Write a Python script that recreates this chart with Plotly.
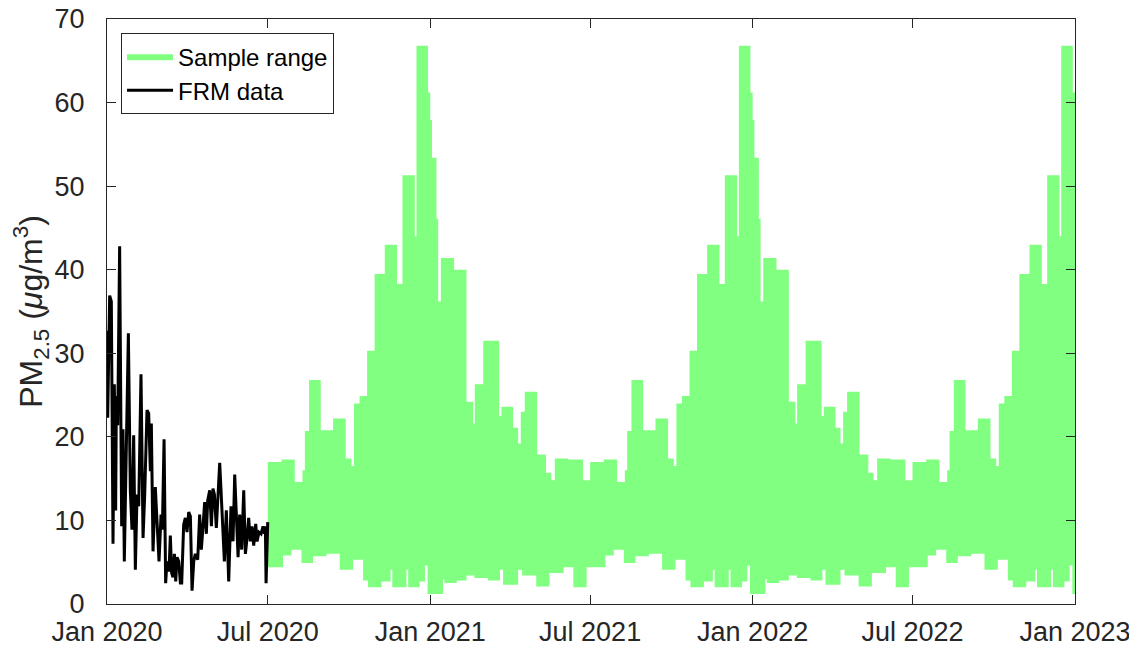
import pandas as pd
import plotly.graph_objects as go

# ---------------- data ----------------
# FRM data: days since 2020-01-01 and PM2.5 values
frm_day = [0.0, 0.8, 3.0, 4.9, 6.8, 8.3, 9.8, 10.6, 12.1, 14.3, 16.6, 18.1, 19.6, 21.9,
           24.2, 26.4, 28.3, 30.2, 32.1, 34.0, 35.9, 38.5, 40.8, 42.7, 45.3, 47.2, 49.1,
           50.2, 52.1, 54.7, 56.6, 58.9, 61.2, 62.7, 64.6, 66.4, 67.9, 70.2, 71.7, 73.2,
           74.7, 76.3, 77.8, 79.3, 81.2, 83.1, 84.6, 86.8, 88.7, 90.6, 92.5, 94.4, 96.3,
           98.2, 100.0, 102.7, 104.9, 106.8, 108.7, 110.6, 112.5, 114.0, 116.3, 118.2,
           120.0, 121.6, 123.8, 125.7, 127.6, 129.1, 131.0, 132.9, 135.1, 137.8, 140.4,
           142.7, 144.6, 146.5, 148.4, 150.2, 152.5, 154.8, 156.7, 158.6, 160.4, 162.3,
           164.2, 166.1, 168.4, 169.9, 172.1, 174.4, 176.7, 178.2, 179.3, 180.1, 182.0]
frm_val = [32.7, 22.3, 36.9, 36.2, 7.2, 26.3, 11.2, 24.9, 21.4, 42.8, 9.3, 20.9, 5.1, 20.7,
           32.4, 13.6, 8.9, 20.2, 4.1, 13.1, 11.7, 27.5, 7.9, 13.1, 23.2, 22.8, 15.9,
           21.6, 6.3, 14.0, 9.3, 5.1, 10.7, 8.9, 19.7, 2.5, 5.1, 3.9, 8.2, 3.7,
           3.2, 6.0, 2.7, 5.6, 5.1, 2.5, 2.5, 9.5, 10.3, 8.6, 11.0, 10.5, 1.6,
           5.1, 6.0, 5.3, 10.7, 6.5, 9.3, 12.2, 8.4, 12.4, 13.6, 9.3,
           13.8, 13.1, 9.1, 13.6, 16.9, 13.6, 9.3, 5.1, 11.2, 2.7, 11.7,
           7.5, 15.5, 9.8, 5.6, 10.7, 6.5, 13.6, 6.0, 7.9, 10.3, 7.5,
           9.3, 7.0, 9.6, 7.5, 8.6, 8.4, 9.3, 8.4, 9.3, 2.5, 9.8]

# Sample range: one seasonal cycle (days since 1 July) that repeats each year in the reference
cycle_starts = ["2020-07-01", "2021-07-01", "2022-07-01"]
upper_day = [0, 15.5, 30.6, 39.3, 42, 46.8, 60, 74, 88.3, 94.8, 97.7, 104, 112.5, 121,
             132.5, 146.4, 152.5, 166.5, 168.4, 181.5, 184, 186, 191, 193, 196, 211, 225,
             232.5, 234.4, 244, 262, 264.6, 277.8, 283.5, 286.5, 291, 305, 315, 321, 325,
             340, 357]
upper_val = [17.0, 17.3, 14.6, 16.0, 20.7, 26.8, 20.8, 22.2, 17.4, 16.5, 24.0, 24.9, 30.3,
             39.5, 43.0, 38.3, 51.3, 44.0, 66.8, 61.2, 57.9, 53.4, 46.1, 36.2, 41.4, 40.0,
             24.2, 21.6, 26.3, 31.5, 22.5, 23.6, 21.1, 19.2, 23.0, 25.4, 17.9, 15.7, 14.8,
             17.4, 17.3, 14.8]
lower_day = [0, 17.3, 26.8, 38.2, 51.3, 66.5, 81.5, 96.6, 108, 113.6, 128.8, 139, 141, 157,
             159, 172, 178, 181, 198.5, 200, 214, 225, 234, 249.5, 263, 266.5, 283.5, 288,
             304, 319, 335, 346, 361]
lower_val = [4.4, 5.8, 6.5, 4.9, 5.7, 6.0, 4.1, 5.3, 2.8, 2.0, 2.7, 4.1, 2.0, 4.1, 2.0,
             2.7, 4.6, 1.2, 3.0, 2.5, 2.8, 3.4, 3.1, 2.8, 4.1, 2.3, 4.1, 3.4, 2.1, 3.7,
             4.4, 2.0, 4.4]

tick_dates = ["2020-01-01", "2020-07-01", "2021-01-01", "2021-07-01",
              "2022-01-01", "2022-07-01", "2023-01-01"]
tick_labels = ["Jan 2020", "Jul 2020", "Jan 2021", "Jul 2021",
               "Jan 2022", "Jul 2022", "Jan 2023"]
y_ticks = [0, 10, 20, 30, 40, 50, 60, 70]

# ---------------- build series ----------------
def expand(days, vals):
    xs, ys = [], []
    for s in cycle_starts:
        t0 = pd.Timestamp(s)
        xs += list(t0 + pd.to_timedelta(days, unit="D"))
        ys += list(vals)
    xs.append(pd.Timestamp(cycle_starts[-1]) + pd.Timedelta(days=365))
    ys.append(vals[-1])
    return xs, ys

ux, uy = expand(upper_day, upper_val)
lx, ly = expand(lower_day, lower_val)
frm_x = pd.Timestamp("2020-01-01") + pd.to_timedelta(frm_day, unit="D")

AX = "#262626"
FONT = "Liberation Sans, Arial, sans-serif"

fig = go.Figure()
fig.add_trace(go.Scatter(x=lx, y=ly, mode="lines", line=dict(width=0, shape="hv"),
                         showlegend=False, hoverinfo="skip"))
fig.add_trace(go.Scatter(x=ux, y=uy, mode="lines", line=dict(width=0, shape="hv"),
                         fill="tonexty", fillcolor="#80FF80", name="Sample range"))
fig.add_trace(go.Scatter(x=frm_x, y=frm_val, mode="lines",
                         line=dict(color="black", width=3), name="FRM data"))

fig.update_layout(
    width=1129, height=641,
    margin=dict(l=99, r=62, t=11, b=45),
    paper_bgcolor="white", plot_bgcolor="white",
    font=dict(family=FONT, color=AX),
    legend=dict(x=0.0145, y=0.976, xanchor="left", yanchor="top",
                traceorder="normal",
                bgcolor="white", bordercolor=AX, borderwidth=1,
                font=dict(size=24, color="black"), itemwidth=46, tracegroupgap=0),
)
fig.update_xaxes(type="date", range=["2020-01-01", "2023-01-01"],
                 tickvals=tick_dates, ticktext=tick_labels, automargin=False,
                 ticks="inside", ticklen=9, tickcolor=AX, mirror="ticks",
                 ticklabelstandoff=4, ticklabeloverflow="allow",
                 showline=True, linecolor=AX, linewidth=1, showgrid=False, zeroline=False,
                 tickfont=dict(size=27, color=AX))
fig.update_yaxes(range=[0, 70], tickvals=y_ticks, automargin=False,
                 ticks="inside", ticklen=9, tickcolor=AX, mirror="ticks",
                 ticklabelstandoff=16, ticklabeloverflow="allow",
                 showline=True, linecolor=AX, linewidth=1, showgrid=False, zeroline=False,
                 tickfont=dict(size=27, color=AX),
                 title=dict(text="PM<sub>2.5</sub> (<i>μ</i>g/m<sup>3</sup>)",
                            font=dict(size=32, color=AX), standoff=2))

fig.write_html("out.html")
